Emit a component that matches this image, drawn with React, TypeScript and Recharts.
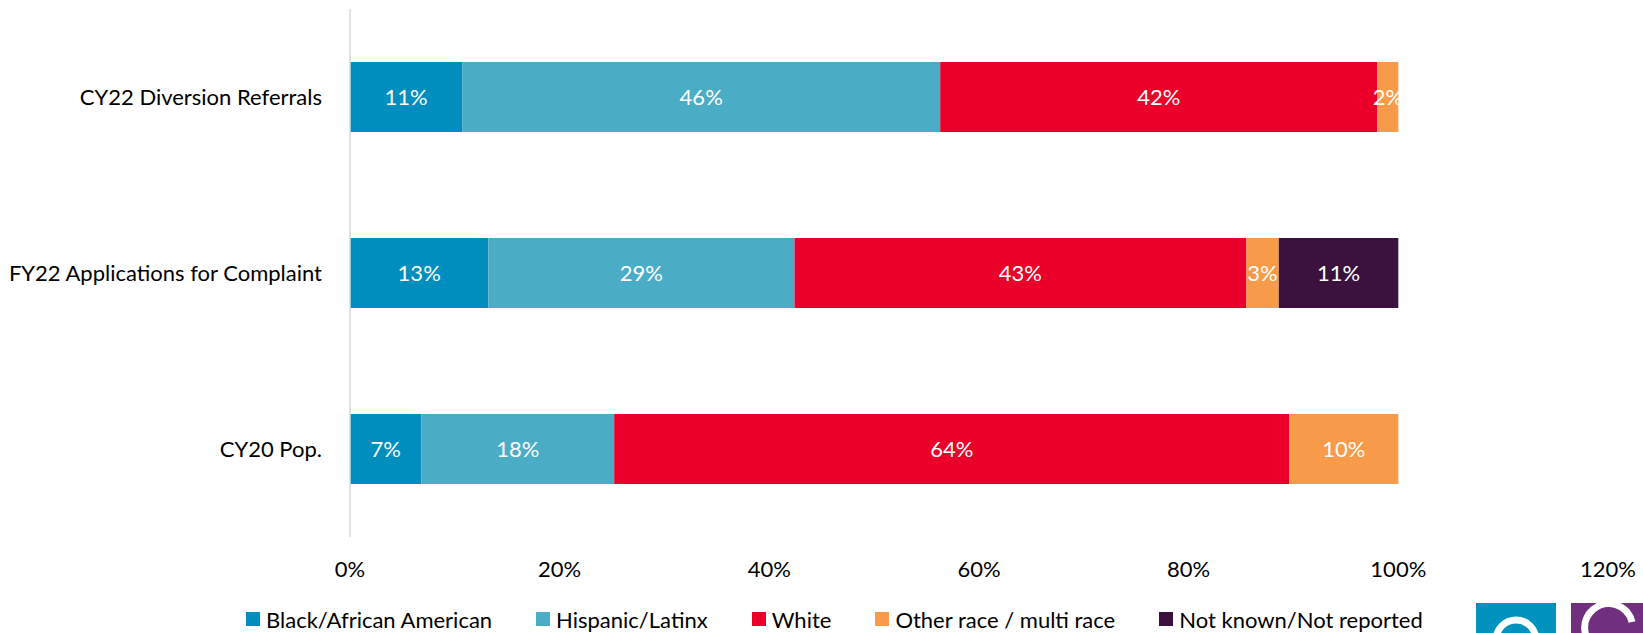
import * as React from 'react';
import { BarChart, Bar, XAxis, YAxis, Legend, LabelList } from 'recharts';

// values (percent of each row)
const categories = ['CY22 Diversion Referrals', 'FY22 Applications for Complaint', 'CY20 Pop.'];
const blackAfricanAmerican = [10.7, 13.2, 6.8];
const hispanicLatinx = [45.6, 29.2, 18.4];
const white = [41.7, 43.1, 64.4];
const otherRace = [2.0, 3.1, 10.4];
const notKnown = [0, 11.4, 0];
const xTicks = [0, 20, 40, 60, 80, 100, 120];

const seriesDefs = [
    { key: 'black', name: 'Black/African American', color: '#008EBF', values: blackAfricanAmerican },
    { key: 'hispanic', name: 'Hispanic/Latinx', color: '#4BACC6', values: hispanicLatinx },
    { key: 'white', name: 'White', color: '#EB0029', values: white },
    { key: 'other', name: 'Other race / multi race', color: '#F79A4A', values: otherRace },
    { key: 'notKnown', name: 'Not known/Not reported', color: '#3A123D', values: notKnown },
];

const FONT = 'Lato, "Noto Sans", sans-serif';
const FS = 22;

export default function App() {
    const data = categories.map((name, i) => {
        const row: any = { name };
        seriesDefs.forEach(s => { row[s.key] = s.values[i]; });
        return row;
    });

    const renderLegend = () => {
        return <div style={{ display: 'flex', paddingLeft: 246, gap: 44, fontFamily: FONT, fontSize: FS, color: '#000', alignItems: 'center', height: 30 }}>
            {seriesDefs.map(s => (
                <div key={s.key} style={{ display: 'flex', alignItems: 'center' }}>
                    <span style={{ display: 'inline-block', width: 14, height: 14, background: s.color, marginRight: 6 }} />
                    <span>{s.name}</span>
                </div>
            ))}
        </div>
    }

    const fmt = (v: any) => (v ? `${Math.round(Number(v))}%` : '');

    return (
        <div style={{ position: 'absolute', left: 0, top: 0, width: 1643, height: 633, overflow: 'hidden', background: '#fff' }}>
            <BarChart layout="vertical" width={1643} height={633} data={data}
                margin={{ top: 9, right: 35, left: 0, bottom: 0 }} barSize={70}
                style={{ fontFamily: FONT }}>
                <XAxis type="number" domain={[0, 120]} ticks={xTicks} tickFormatter={(v) => `${v}%`}
                    axisLine={false} tickLine={false} tickSize={0} tickMargin={24} height={66}
                    tick={{ fill: '#000', fontSize: FS, fontFamily: FONT }} interval={0} />
                <YAxis type="category" dataKey="name" width={350} tickLine={false} tickSize={0} tickMargin={28}
                    axisLine={{ stroke: '#D9D9D9', strokeWidth: 1.5 }}
                    tick={{ fill: '#000', fontSize: FS, fontFamily: FONT }} interval={0} />
                <Legend content={renderLegend} verticalAlign="bottom"
                    wrapperStyle={{ position: 'absolute', left: 0, top: 604, width: 1643, height: 30 }} />
                {seriesDefs.map(s => (
                    <Bar key={s.key} dataKey={s.key} name={s.name} stackId="a" fill={s.color} isAnimationActive={false}>
                        <LabelList dataKey={s.key} position="center" formatter={fmt}
                            fill="#fff" fontSize={FS} fontFamily={FONT} />
                    </Bar>
                ))}
            </BarChart>
            <svg width={1643} height={633} style={{ position: 'absolute', left: 0, top: 0, pointerEvents: 'none' }}>
                <rect x={1476} y={603} width={80} height={40} fill="#0093BD" />
                <circle cx={1516} cy={640} r={20} fill="none" stroke="#fff" strokeWidth={7} />
                <rect x={1571} y={603} width={80} height={40} fill="#702F7F" />
                <path d="M 1632 622 A 24 24 0 1 0 1600 650" fill="none" stroke="#fff" strokeWidth={7} />
            </svg>
        </div>
    );
}
